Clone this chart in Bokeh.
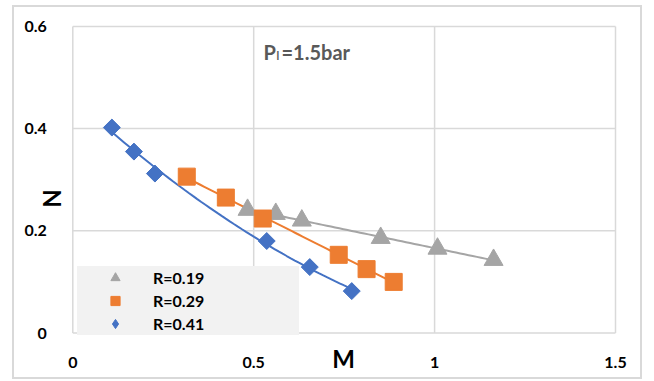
import numpy as np
from bokeh.plotting import figure
from bokeh.models import Label, Legend, LegendItem, FixedTicker, Range1d
from bokeh.embed import file_html
from bokeh.resources import INLINE

# ---------------- data ----------------
series_names = ["R=0.19", "R=0.29", "R=0.41"]
gray_M = [0.483, 0.561, 0.633, 0.851, 1.008, 1.163]
gray_N = [0.241, 0.233, 0.220, 0.186, 0.165, 0.143]
orange_M = [0.315, 0.423, 0.525, 0.735, 0.812, 0.887]
orange_N = [0.306, 0.265, 0.224, 0.153, 0.125, 0.100]
blue_M = [0.108, 0.169, 0.227, 0.536, 0.655, 0.771]
blue_N = [0.402, 0.355, 0.312, 0.180, 0.129, 0.082]
x_ticks = [0, 0.5, 1, 1.5]
x_tick_labels = ["0", "0.5", "1", "1.5"]
y_ticks = [0, 0.2, 0.4, 0.6]
y_tick_labels = ["0", "0.2", "0.4", "0.6"]
x_title = "M"
y_title = "N"
note_main = "P"
note_sub = "l"
note_rest = "=1.5bar"

GRAY = "#A5A5A5"
ORANGE = "#ED7D31"
BLUE = "#4472C4"
GRID = "#d9d9d9"
FONT = "Lato"

# canvas geometry (page px): canvas spans x 14..644, y 7..381
# plot area: M=0 at x=72.3, 361.8 px per unit; N=0 at y=332.5, 511 px per unit
X0, XS = 72.3, 361.8
Y0, YS = 332.5, 511.0
CW, CH = 630, 374
CL, CT = 14, 7
x_range = Range1d((CL - X0) / XS, (CL + CW - X0) / XS)
y_range = Range1d((Y0 - (CT + CH)) / YS, (Y0 - CT) / YS)

p = figure(width=CW, height=CH, x_range=x_range, y_range=y_range,
           output_backend="svg", toolbar_location=None,
           min_border=0, min_border_left=0, min_border_right=0,
           min_border_top=0, min_border_bottom=0,
           margin=(5, 0, 0, 12),
           styles={"border": "2px solid #d9d9d9"})
p.outline_line_color = None
p.background_fill_color = "white"
p.border_fill_color = "white"
p.xgrid.visible = False
p.ygrid.visible = False

for ax, loc in ((p.xaxis[0], 0), (p.yaxis[0], 0)):
    ax.fixed_location = loc
    ax.axis_line_color = None
    ax.major_tick_line_color = None
    ax.minor_tick_line_color = None
    ax.major_label_text_font = FONT
    ax.major_label_text_font_style = "bold"
    ax.major_label_text_font_size = "16px"
    ax.major_label_text_color = "#000000"
p.xaxis.ticker = FixedTicker(ticks=x_ticks)
p.yaxis.ticker = FixedTicker(ticks=y_ticks)
p.xaxis.major_label_overrides = {t: l for t, l in zip(x_ticks, x_tick_labels)}
p.yaxis.major_label_overrides = {t: l for t, l in zip(y_ticks, y_tick_labels)}
p.xaxis.major_label_standoff = 18
p.yaxis.major_label_standoff = 20

# grid lines of the plot area (from the tick arrays)
p.segment(x0=x_ticks, y0=[y_ticks[0]] * len(x_ticks), x1=x_ticks,
          y1=[y_ticks[-1]] * len(x_ticks), line_color=GRID, line_width=1.5)
p.segment(x0=[x_ticks[0]] * len(y_ticks), y0=y_ticks, x1=[x_ticks[-1]] * len(y_ticks),
          y1=y_ticks, line_color=GRID, line_width=1.5)


def fit_line(xs, ys, deg):
    c = np.polyfit(xs, ys, deg)
    xx = np.linspace(min(xs), max(xs), 60)
    return xx, np.polyval(c, xx)


# trendlines
gx, gy = fit_line(gray_M, gray_N, 1)
ox, oy = fit_line(orange_M, orange_N, 1)
bx, by = fit_line(blue_M, blue_N, 2)
p.line(gx, gy, line_color=GRAY, line_width=2)
p.line(ox, oy, line_color=ORANGE, line_width=2)
p.line(bx, by, line_color=BLUE, line_width=2)

# markers
r_gray = p.scatter(gray_M, gray_N, marker="triangle", size=19, fill_color=GRAY, line_color=GRAY)
r_orange = p.scatter(orange_M, orange_N, marker="square", size=17, fill_color=ORANGE,
                     line_color=ORANGE)
p.scatter(blue_M, blue_N, marker="square", angle=np.pi / 4, size=12,
          fill_color=BLUE, line_color=BLUE)
# legend stand-in for the blue series (legend markers are drawn unrotated)
lb = p.scatter(x=[-10], y=[-10], marker="diamond", size=12, fill_color=BLUE, line_color=BLUE)

legend = Legend(items=[LegendItem(label=series_names[0], renderers=[r_gray]),
                       LegendItem(label=series_names[1], renderers=[r_orange]),
                       LegendItem(label=series_names[2], renderers=[lb])],
                location=(63, 46), orientation="vertical",
                background_fill_color="#f2f2f2", background_fill_alpha=1.0,
                border_line_color=None, padding=0, spacing=0,
                glyph_width=76, glyph_height=23, label_height=23,
                label_standoff=0, label_width=146,
                label_text_font=FONT, label_text_font_style="bold",
                label_text_font_size="16px", label_text_color="#000000",
                margin=0)
p.add_layout(legend, "center")

# axis titles
p.add_layout(Label(x=(343 - X0) / XS, y=(Y0 - 358) / YS, text=x_title, text_font=FONT,
                   text_font_style="bold", text_font_size="24px",
                   text_align="center", text_baseline="middle", text_color="#000000"))
p.add_layout(Label(x=(51 - X0) / XS, y=(Y0 - 198) / YS, text=y_title, angle=np.pi / 2,
                   text_font=FONT, text_font_style="bold", text_font_size="24px",
                   text_align="center", text_baseline="middle", text_color="#000000"))

# annotation P_l = 1.5bar
NOTE_C = "#595959"
p.add_layout(Label(x=(263 - X0) / XS, y=(Y0 - 51) / YS, text=note_main, text_font=FONT,
                   text_font_style="bold", text_font_size="20px", text_color=NOTE_C,
                   text_baseline="alphabetic"))
p.add_layout(Label(x=(276 - X0) / XS, y=(Y0 - 55) / YS, text=note_sub, text_font=FONT,
                   text_font_style="bold", text_font_size="11px", text_color=NOTE_C,
                   text_baseline="alphabetic"))
p.add_layout(Label(x=(281 - X0) / XS, y=(Y0 - 51) / YS, text=note_rest, text_font=FONT,
                   text_font_style="bold", text_font_size="20px", text_color=NOTE_C,
                   text_baseline="alphabetic"))

open("out.html", "w").write(file_html(p, INLINE))
